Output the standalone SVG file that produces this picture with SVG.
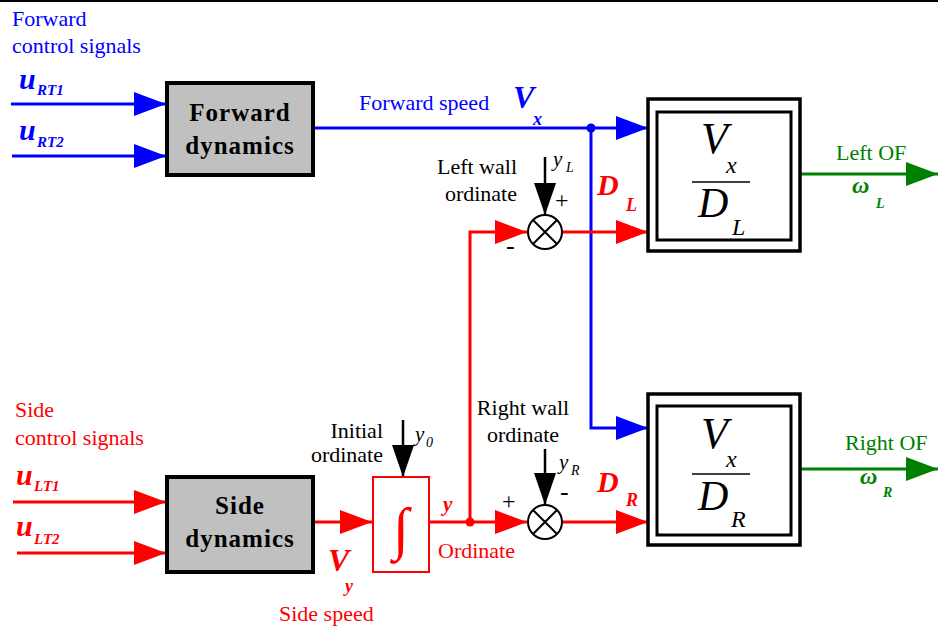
<svg xmlns="http://www.w3.org/2000/svg" width="938" height="628" viewBox="0 0 938 628" font-family="'Liberation Serif', 'DejaVu Serif', 'Times New Roman', serif">
<style>
text{font-family:'Liberation Serif','DejaVu Serif','Times New Roman',serif}
.lbl{font-size:22px}
.blue{fill:#0000ff}
.red{fill:#ff0000}
.green{fill:#008000}
.blk{fill:#000}
.bi{font-weight:bold;font-style:italic}
.it{font-style:italic}
.box{fill:#c0c0c0;stroke:#000;stroke-width:4}
.bt{font-size:25px;font-weight:bold;text-anchor:middle;fill:#000;letter-spacing:1px}
.ofo{fill:#fff;stroke:#000;stroke-width:3.5}
.ofi{fill:none;stroke:#000;stroke-width:3}
.lb{stroke:#0000ff;stroke-width:3;fill:none}
.lr{stroke:#ff0000;stroke-width:3;fill:none}
.lg{stroke:#008000;stroke-width:3;fill:none}
.lk{stroke:#000;stroke-width:2.5;fill:none}
.sum{fill:#fff;stroke:#000;stroke-width:2}
</style>
<defs>
<marker id="ab" markerUnits="userSpaceOnUse" markerWidth="32" markerHeight="26" refX="32" refY="13" orient="auto"><path d="M0,1 L32,13 L0,25 z" fill="#0000ff"/></marker>
<marker id="ar" markerUnits="userSpaceOnUse" markerWidth="32" markerHeight="26" refX="32" refY="13" orient="auto"><path d="M0,1 L32,13 L0,25 z" fill="#ff0000"/></marker>
<marker id="ag" markerUnits="userSpaceOnUse" markerWidth="32" markerHeight="26" refX="32" refY="13" orient="auto"><path d="M0,1 L32,13 L0,25 z" fill="#008000"/></marker>
<marker id="ak" markerUnits="userSpaceOnUse" markerWidth="32" markerHeight="24" refX="32" refY="12" orient="auto"><path d="M0,1 L32,12 L0,23 z" fill="#000"/></marker>
</defs>
<rect x="0" y="0" width="938" height="628" fill="#fff"/>
<line x1="0" y1="1" x2="938" y2="1" stroke="#000" stroke-width="2"/>

<g id="connectors">
<line class="lb" x1="11" y1="104" x2="166" y2="104" marker-end="url(#ab)"/>
<line class="lb" x1="12" y1="156" x2="166" y2="156" marker-end="url(#ab)"/>
<line class="lb" x1="314" y1="128" x2="648" y2="128" marker-end="url(#ab)"/>
<polyline class="lb" points="591,128 591,428 648,428" marker-end="url(#ab)"/>
<circle cx="591" cy="128" r="4.5" fill="#0000ff"/>
<line class="lr" x1="13" y1="502" x2="166" y2="502" marker-end="url(#ar)"/>
<line class="lr" x1="17" y1="553" x2="166" y2="553" marker-end="url(#ar)"/>
<line class="lr" x1="313" y1="522" x2="372" y2="522" marker-end="url(#ar)"/>
<line class="lr" x1="429" y1="522" x2="527" y2="522" marker-end="url(#ar)"/>
<circle cx="470" cy="522" r="4.5" fill="#ff0000"/>
<polyline class="lr" points="470,522 470,232 527,232" marker-end="url(#ar)"/>
<line class="lr" x1="562" y1="232" x2="648" y2="232" marker-end="url(#ar)"/>
<line class="lr" x1="562" y1="522" x2="648" y2="522" marker-end="url(#ar)"/>
<line class="lg" x1="800" y1="174" x2="938" y2="174" marker-end="url(#ag)"/>
<line class="lg" x1="800" y1="469" x2="938" y2="469" marker-end="url(#ag)"/>
<line class="lk" x1="545" y1="157" x2="545" y2="215" marker-end="url(#ak)"/>
<line class="lk" x1="545" y1="449" x2="545" y2="505" marker-end="url(#ak)"/>
<line class="lk" x1="403" y1="420" x2="403" y2="477" marker-end="url(#ak)"/>
</g>

<g id="forward-inputs">
<text class="lbl blue" x="12" y="26">Forward</text>
<text class="lbl blue" x="12" y="53">control signals</text>
<text class="bi blue" x="19" y="89" font-size="30">u</text>
<text class="bi blue" x="37" y="95" font-size="15">RT1</text>
<text class="bi blue" x="19" y="140" font-size="30">u</text>
<text class="bi blue" x="37" y="147" font-size="15">RT2</text>
</g>

<g id="forward-dynamics">
<rect class="box" x="167" y="83" width="146" height="92"/>
<text class="bt" x="240" y="121">Forward</text>
<text class="bt" x="240" y="154">dynamics</text>
</g>

<g id="forward-speed">
<text class="lbl blue" x="359" y="110" font-size="23">Forward speed</text>
<text class="bi blue" x="513" y="108" font-size="32">V</text>
<text class="bi blue" x="533" y="125" font-size="18">x</text>
</g>

<g id="left-sum">
<circle class="sum" cx="545" cy="232" r="17"/>
<path d="M533,220 L557,244 M557,220 L533,244" stroke="#000" stroke-width="2"/>
<text class="lbl blk" x="517" y="174" text-anchor="end">Left wall</text>
<text class="lbl blk" x="517" y="201" text-anchor="end">ordinate</text>
<text class="it blk" x="553" y="166" font-size="21">y</text>
<text class="it blk" x="566" y="172" font-size="14">L</text>
<text class="blk" x="555" y="208" font-size="24">+</text>
<text class="blk" x="506" y="254" font-size="26">-</text>
<text class="bi red" x="597" y="195" font-size="30">D</text>
<text class="bi red" x="626" y="211" font-size="18">L</text>
</g>

<g id="left-of">
<rect class="ofo" x="648" y="99" width="152" height="152"/>
<rect class="ofi" x="657" y="112" width="134" height="128"/>
<text class="it blk" x="701" y="153" font-size="44">V</text>
<text class="it blk" x="726" y="173" font-size="24">x</text>
<line x1="692" y1="182" x2="750" y2="182" stroke="#000" stroke-width="1.5"/>
<text class="it blk" x="698" y="217" font-size="42">D</text>
<text class="it blk" x="732" y="235" font-size="24">L</text>
<text class="lbl green" x="836" y="160">Left OF</text>
<text class="bi green" x="852" y="193" font-size="24">ω</text>
<text class="bi green" x="876" y="208" font-size="14">L</text>
</g>

<g id="side-inputs">
<text class="lbl red" x="15" y="417">Side</text>
<text class="lbl red" x="15" y="445">control signals</text>
<text class="bi red" x="16" y="485" font-size="30">u</text>
<text class="bi red" x="34" y="491" font-size="15">LT1</text>
<text class="bi red" x="16" y="536" font-size="30">u</text>
<text class="bi red" x="34" y="544" font-size="15">LT2</text>
</g>

<g id="side-dynamics">
<rect class="box" x="167" y="477" width="146" height="95"/>
<text class="bt" x="240" y="514">Side</text>
<text class="bt" x="240" y="547">dynamics</text>
</g>

<g id="side-speed">
<text class="bi red" x="328" y="571" font-size="32">V</text>
<text class="bi red" x="345" y="592" font-size="18">y</text>
<text class="lbl red" x="279" y="621" font-size="23">Side speed</text>
</g>

<g id="integrator">
<rect x="373" y="477" width="56" height="95" fill="#fff" stroke="#ff0000" stroke-width="2"/>
<text class="red" x="401" y="548" font-size="58" text-anchor="middle">∫</text>
<text class="lbl blk" x="383" y="438" text-anchor="end">Initial</text>
<text class="lbl blk" x="383" y="462" text-anchor="end">ordinate</text>
<text class="it blk" x="415" y="441" font-size="21">y</text>
<text class="it blk" x="426" y="447" font-size="14">0</text>
<text class="bi red" x="443" y="511" font-size="21">y</text>
<text class="lbl red" x="438" y="558" font-size="23">Ordinate</text>
</g>

<g id="right-sum">
<circle class="sum" cx="545" cy="522" r="17"/>
<path d="M533,510 L557,534 M557,510 L533,534" stroke="#000" stroke-width="2"/>
<text class="lbl blk" x="523" y="415" text-anchor="middle">Right wall</text>
<text class="lbl blk" x="523" y="442" text-anchor="middle">ordinate</text>
<text class="it blk" x="559" y="469" font-size="21">y</text>
<text class="it blk" x="571" y="475" font-size="14">R</text>
<text class="blk" x="560" y="500" font-size="26">-</text>
<text class="blk" x="502" y="509" font-size="24">+</text>
<text class="bi red" x="597" y="492" font-size="30">D</text>
<text class="bi red" x="626" y="506" font-size="18">R</text>
</g>

<g id="right-of">
<rect class="ofo" x="648" y="394" width="152" height="151"/>
<rect class="ofi" x="657" y="406" width="134" height="129"/>
<text class="it blk" x="701" y="448" font-size="44">V</text>
<text class="it blk" x="726" y="467" font-size="24">x</text>
<line x1="692" y1="474" x2="750" y2="474" stroke="#000" stroke-width="1.5"/>
<text class="it blk" x="698" y="510" font-size="42">D</text>
<text class="it blk" x="731" y="527" font-size="24">R</text>
<text class="lbl green" x="845" y="450">Right OF</text>
<text class="bi green" x="860" y="484" font-size="24">ω</text>
<text class="bi green" x="883" y="497" font-size="14">R</text>
</g>
</svg>
